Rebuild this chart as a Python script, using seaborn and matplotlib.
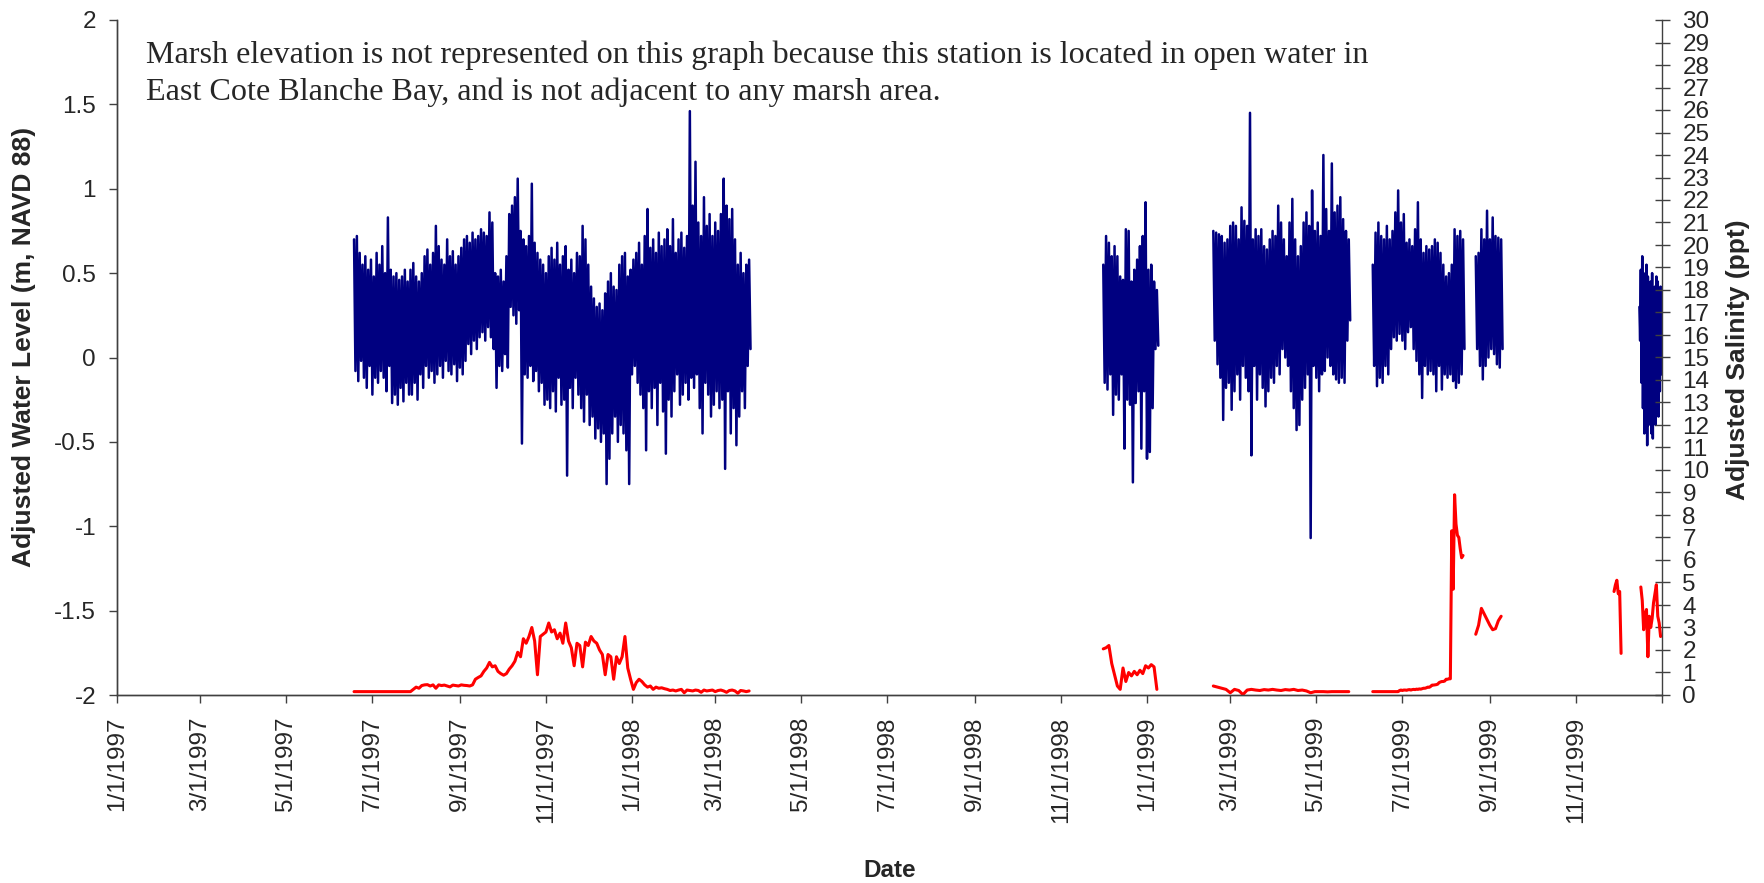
import matplotlib
matplotlib.use("Agg")
import matplotlib.pyplot as plt
import matplotlib.dates as mdates
import numpy as np
import pandas as pd
import seaborn as sns

# ---------------------------------------------------------------------------
# Adjusted water level (m, NAVD 88): successive high / low readings for each
# deployment period (start date, spacing in days between high/low pairs)
# ---------------------------------------------------------------------------
wl1_start, wl1_step = "1997-06-18", 2
wl1_high = [0.70, 0.72, 0.62, 0.55, 0.60, 0.52, 0.58, 0.48, 0.62, 0.55,
            0.66, 0.50, 0.83, 0.52, 0.48, 0.50, 0.46, 0.48, 0.52, 0.45,
            0.52, 0.56, 0.48, 0.45, 0.50, 0.60, 0.64, 0.55, 0.62, 0.78,
            0.66, 0.58, 0.55, 0.70, 0.60, 0.63, 0.55, 0.60, 0.65, 0.70,
            0.72, 0.68, 0.74, 0.70, 0.72, 0.76, 0.74, 0.72, 0.86, 0.80,
            0.50, 0.48, 0.52, 0.45, 0.60, 0.85, 0.90, 0.95, 1.06, 0.75,
            0.70, 0.66, 0.72, 1.03, 0.68, 0.62, 0.58, 0.55, 0.50, 0.60,
            0.65, 0.58, 0.68, 0.55, 0.60, 0.66, 0.52, 0.58, 0.50, 0.62,
            0.60, 0.78, 0.70, 0.55, 0.42, 0.35, 0.30, 0.32, 0.28, 0.38,
            0.45, 0.50, 0.42, 0.40, 0.55, 0.60, 0.62, 0.48, 0.52, 0.58,
            0.62, 0.68, 0.55, 0.72, 0.88, 0.65, 0.70, 0.62, 0.74, 0.66,
            0.70, 0.76, 0.66, 0.82, 0.62, 0.70, 0.74, 0.65, 0.72, 1.46,
            0.90, 1.16, 0.80, 0.72, 0.95, 0.78, 0.85, 0.72, 0.80, 0.75,
            0.85, 1.06, 0.90, 0.82, 0.88, 0.70, 0.55, 0.62, 0.50, 0.55, 0.58]
wl1_low = [-0.08, -0.14, -0.02, -0.12, -0.18, -0.05, -0.22, -0.12, -0.15, -0.08,
           -0.12, -0.20, -0.05, -0.27, -0.22, -0.28, -0.18, -0.26, -0.15, -0.22,
           -0.22, -0.15, -0.25, -0.10, -0.18, -0.05, -0.12, -0.08, -0.15, -0.10,
           -0.05, -0.12, -0.02, -0.08, -0.10, -0.04, -0.14, -0.06, -0.10, -0.02,
           0.08, 0.02, 0.10, 0.05, 0.12, 0.15, 0.10, 0.18, 0.12, 0.05,
           -0.18, -0.05, -0.08, 0.02, -0.06, 0.30, 0.25, 0.20, 0.28, -0.51,
           -0.10, -0.12, -0.05, -0.14, -0.08, -0.20, -0.15, -0.28, -0.25, -0.30,
           -0.20, -0.32, -0.12, -0.28, -0.25, -0.70, -0.18, -0.30, -0.12, -0.22,
           -0.30, -0.38, -0.22, -0.40, -0.35, -0.48, -0.42, -0.50, -0.45, -0.75,
           -0.60, -0.45, -0.35, -0.50, -0.40, -0.45, -0.55, -0.75, -0.10, -0.05,
           -0.15, -0.22, -0.30, -0.55, -0.20, -0.30, -0.18, -0.40, -0.15, -0.32,
           -0.57, -0.25, -0.35, -0.20, -0.10, -0.28, -0.22, -0.15, -0.25, -0.12,
           -0.18, -0.10, -0.30, -0.45, -0.15, -0.22, -0.35, -0.28, -0.20, -0.30,
           -0.25, -0.66, -0.20, -0.45, -0.30, -0.52, -0.35, -0.20, -0.30, -0.05, 0.05]

wl2_start, wl2_step = "1998-12-01", 2
wl2_high = [0.55, 0.72, 0.68, 0.60, 0.66, 0.60, 0.48, 0.46, 0.76, 0.75,
            0.45, 0.52, 0.58, 0.66, 0.72, 0.92, 0.52, 0.55, 0.45, 0.40]
wl2_low = [-0.15, -0.19, -0.10, -0.34, -0.22, -0.25, -0.10, -0.54, -0.25, -0.28,
           -0.74, -0.27, -0.20, -0.54, -0.20, -0.60, -0.56, -0.30, 0.05, 0.07]

wl3_start, wl3_step = "1999-02-17", 2
wl3_high = [0.75, 0.74, 0.73, 0.72, 0.68, 0.70, 0.78, 0.80, 0.78, 0.70,
            0.89, 0.81, 0.78, 1.45, 0.70, 0.76, 0.72, 0.76, 0.66, 0.64,
            0.70, 0.75, 0.72, 0.90, 0.80, 0.70, 0.60, 0.80, 0.94, 0.70,
            0.60, 0.66, 0.80, 0.86, 0.78, 0.99, 0.75, 0.80, 0.72, 1.20,
            0.88, 0.75, 1.15, 0.86, 0.90, 0.95, 0.82, 0.75, 0.70]
wl3_low = [0.10, -0.04, -0.12, -0.37, -0.18, -0.15, -0.31, -0.20, -0.10, -0.25,
           -0.05, -0.12, -0.20, -0.58, -0.05, -0.25, -0.10, -0.18, -0.29, -0.20,
           -0.12, -0.15, -0.05, -0.10, 0.05, 0.00, -0.05, -0.20, -0.30, -0.43,
           -0.40, -0.25, -0.18, -0.10, -1.07, -0.05, -0.12, -0.20, -0.10, -0.08,
           0.00, -0.05, -0.10, -0.13, -0.15, -0.12, -0.15, 0.10, 0.22]

wl4_start, wl4_step = "1999-06-10", 2
wl4_high = [0.55, 0.74, 0.80, 0.72, 0.70, 0.78, 0.70, 0.75, 0.86, 0.99,
            0.80, 0.85, 0.68, 0.70, 0.66, 0.76, 0.92, 0.70, 0.62, 0.66,
            0.64, 0.66, 0.70, 0.68, 0.62, 0.55, 0.48, 0.50, 0.55, 0.76,
            0.72, 0.75, 0.70]
wl4_low = [-0.05, -0.17, -0.12, -0.15, -0.05, -0.10, 0.05, 0.12, 0.10, 0.14,
           0.10, 0.05, 0.15, 0.18, 0.05, -0.02, -0.10, -0.24, -0.05, -0.10,
           -0.08, -0.10, -0.20, -0.05, -0.19, -0.10, -0.12, -0.10, -0.14, -0.18,
           -0.15, -0.10, 0.05]

wl5_start, wl5_step = "1999-08-22", 2
wl5_high = [0.60, 0.62, 0.76, 0.70, 0.87, 0.70, 0.83, 0.72, 0.71, 0.70]
wl5_low = [0.05, -0.05, -0.13, -0.05, 0.00, 0.05, 0.02, -0.04, -0.06, 0.05]

wl6_start, wl6_step = "1999-12-16", 1
wl6_high = [0.30, 0.52, 0.60, 0.50, 0.45, 0.55, 0.48, 0.40,
            0.45, 0.50, 0.38, 0.42, 0.48, 0.45, 0.40, 0.42]
wl6_low = [0.10, -0.15, -0.30, -0.45, -0.38, -0.52, -0.40, -0.35,
           -0.45, -0.48, -0.30, -0.40, -0.25, -0.35, -0.20, -0.10]

# ---------------------------------------------------------------------------
# Adjusted salinity (ppt): readings per deployment (start date, spacing days)
# ---------------------------------------------------------------------------
sal1_start, sal1_step = "1997-06-18", 2
sal1 = [0.15, 0.15, 0.15, 0.15, 0.15, 0.15, 0.15, 0.15, 0.15, 0.15,
        0.15, 0.15, 0.15, 0.15, 0.15, 0.15, 0.15, 0.15, 0.15, 0.15, 0.15,
        0.25, 0.35, 0.30, 0.42, 0.45, 0.46, 0.40, 0.45, 0.30, 0.45,
        0.42, 0.44, 0.40, 0.36, 0.44, 0.42, 0.40, 0.45, 0.43, 0.42, 0.40,
        0.45, 0.70, 0.78, 0.85, 1.05, 1.20, 1.45, 1.25, 1.30, 1.05,
        0.95, 0.88, 0.95, 1.15, 1.30, 1.50, 1.90, 1.70, 2.50, 2.30,
        2.60, 3.00, 2.40, 0.90, 2.60, 2.70, 2.80, 3.20, 2.80, 2.90,
        2.50, 2.75, 2.30, 3.20, 2.40, 2.10, 1.30, 2.30, 2.20, 1.25,
        2.35, 2.20, 2.60, 2.40, 2.30, 2.00, 1.80, 0.90, 1.80, 1.70,
        0.70, 1.70, 1.40, 1.70, 2.60, 1.20, 0.70, 0.25, 0.55, 0.70,
        0.60, 0.45, 0.35, 0.40, 0.25, 0.35, 0.30, 0.32, 0.28,
        0.25, 0.20, 0.22, 0.18, 0.22, 0.25, 0.10, 0.22, 0.20, 0.18,
        0.22, 0.20, 0.12, 0.22, 0.18, 0.20, 0.22, 0.15, 0.20, 0.22,
        0.18, 0.12, 0.20, 0.22, 0.18, 0.08, 0.20, 0.18, 0.15, 0.18]

sal2_start, sal2_step = "1998-12-01", 2
sal2 = [2.05, 2.10, 2.20, 1.40, 0.90, 0.40, 0.25, 1.20, 0.60, 1.00,
        0.85, 1.05, 0.90, 1.10, 0.95, 1.30, 1.20, 1.35, 1.25, 0.25]

sal3_start, sal3_step = "1999-02-17", 3
sal3 = [0.40, 0.35, 0.30, 0.25, 0.10, 0.25, 0.20, 0.02, 0.22, 0.25,
        0.22, 0.20, 0.24, 0.22, 0.25, 0.22, 0.20, 0.24, 0.22, 0.25,
        0.20, 0.22, 0.18, 0.10, 0.15, 0.15, 0.15, 0.14, 0.15, 0.15,
        0.15, 0.15, 0.15]

sal4_start, sal4_step = "1999-06-10", 1
sal4 = [0.15, 0.15, 0.15, 0.15, 0.15, 0.15, 0.15, 0.15, 0.15, 0.15,
        0.15, 0.15, 0.15, 0.15, 0.15, 0.15, 0.15, 0.15, 0.15,
        0.20, 0.22, 0.20, 0.22, 0.22, 0.21, 0.23, 0.24, 0.22, 0.24,
        0.25, 0.24, 0.26, 0.25, 0.27, 0.26, 0.28,
        0.30, 0.30, 0.32, 0.35, 0.34, 0.38, 0.44, 0.44, 0.45, 0.46,
        0.48, 0.55, 0.58, 0.60, 0.60, 0.62, 0.70, 0.70, 0.72, 0.72,
        7.30, 4.70, 8.90, 7.60, 7.10, 7.00, 6.50, 6.10, 6.20]

sal5_start, sal5_step = "1999-08-22", 2
sal5 = [2.70, 3.10, 3.85, 3.60, 3.35, 3.10, 2.90, 2.95, 3.30, 3.50]

sal6_start, sal6_step = "1999-11-28", 1
sal6 = [4.60, 4.90, 5.10, 4.50, 4.60, 1.85]

sal7_start, sal7_step = "1999-12-17", 1
sal7 = [4.80, 4.20, 2.90, 3.60, 3.80, 1.70, 3.50, 3.00, 3.40, 4.10,
        4.50, 4.90, 3.50, 3.20, 2.60]

# Axis text
left_ticks = [-2, -1.5, -1, -0.5, 0, 0.5, 1, 1.5, 2]
left_tick_labels = ["-2", "-1.5", "-1", "-0.5", "0", "0.5", "1", "1.5", "2"]
right_ticks = list(range(0, 31))
date_ticks = pd.date_range("1997-01-01", "2000-01-01", freq="2MS")
date_tick_labels = [f"{d.month}/{d.day}/{d.year}" for d in date_ticks[:-1]] + [""]
note_lines = [
    "Marsh elevation is not represented on this graph because this station is located in open water in",
    "East Cote Blanche Bay, and is not adjacent to any marsh area.",
]


def level_frame(parts):
    rows = []
    for k, (start, step, highs, lows) in enumerate(parts):
        t0 = pd.Timestamp(start)
        for i, (h, l) in enumerate(zip(highs, lows)):
            rows.append((t0 + pd.Timedelta(days=step * i), h, k))
            rows.append((t0 + pd.Timedelta(days=step * i + step / 2), l, k))
    return pd.DataFrame(rows, columns=["date", "level", "segment"])


def salinity_frame(parts):
    rows = []
    for k, (start, step, vals) in enumerate(parts):
        t0 = pd.Timestamp(start)
        for i, v in enumerate(vals):
            rows.append((t0 + pd.Timedelta(days=step * i), v, k))
    return pd.DataFrame(rows, columns=["date", "salinity", "segment"])


wl_df = level_frame([
    (wl1_start, wl1_step, wl1_high, wl1_low),
    (wl2_start, wl2_step, wl2_high, wl2_low),
    (wl3_start, wl3_step, wl3_high, wl3_low),
    (wl4_start, wl4_step, wl4_high, wl4_low),
    (wl5_start, wl5_step, wl5_high, wl5_low),
    (wl6_start, wl6_step, wl6_high, wl6_low),
])
sal_df = salinity_frame([
    (sal1_start, sal1_step, sal1),
    (sal2_start, sal2_step, sal2),
    (sal3_start, sal3_step, sal3),
    (sal4_start, sal4_step, sal4),
    (sal5_start, sal5_step, sal5),
    (sal6_start, sal6_step, sal6),
    (sal7_start, sal7_step, sal7),
])

sns.set_style("white")
plt.rcParams["font.family"] = ["Liberation Sans", "DejaVu Sans"]
plt.rcParams["axes.unicode_minus"] = False

W, H = 1765, 883
fig = plt.figure(figsize=(W / 100, H / 100), dpi=100)
x0, x1, y0, y1 = 117, 1662, 20, 695
ax = fig.add_axes([x0 / W, 1 - y1 / H, (x1 - x0) / W, (y1 - y0) / H])
ax2 = ax.twinx()

sns.lineplot(data=wl_df, x="date", y="level", units="segment", estimator=None,
             sort=False, color="#000080", linewidth=1.8, ax=ax, legend=False)
sns.lineplot(data=sal_df, x="date", y="salinity", units="segment", estimator=None,
             sort=False, color="#FF0000", linewidth=2.2, ax=ax2, legend=False)

spine_col = "#404040"
for a in (ax, ax2):
    a.set_facecolor("none")
    a.spines["top"].set_visible(False)
    for s in ("left", "right", "bottom"):
        a.spines[s].set_color(spine_col)
        a.spines[s].set_linewidth(1.0)
ax.spines["right"].set_visible(False)

ax.set_xlim(mdates.date2num(pd.Timestamp("1997-01-01")),
            mdates.date2num(pd.Timestamp("2000-01-01")))
ax.set_ylim(-2, 2)
ax2.set_ylim(0, 30)

ax.set_yticks(left_ticks)
ax.set_yticklabels(left_tick_labels)
ax2.set_yticks(right_ticks)
ax2.set_yticklabels([str(t) for t in right_ticks])
ax.set_xticks(mdates.date2num(date_ticks))
ax.set_xticklabels(date_tick_labels, rotation=90)

fs = 17.5
ax.tick_params(axis="y", direction="out", length=5.8, width=1, color=spine_col,
               labelsize=fs, pad=9.3, left=True)
ax.tick_params(axis="x", direction="out", length=5.8, width=1, color=spine_col,
               labelsize=fs, pad=10, bottom=True)
ax2.tick_params(axis="y", direction="inout", length=10.8, width=1, color=spine_col,
                labelsize=fs, pad=9.3, right=True)

ax.set_xlabel("Date", fontsize=fs, fontweight="bold")
ax.xaxis.set_label_coords(890 / W, 1 - 876.7 / H, transform=fig.transFigure)
ax.xaxis.label.set_va("baseline")

ax.set_ylabel("Adjusted Water Level (m, NAVD 88)", fontsize=19, fontweight="bold")
ax.yaxis.set_label_coords(24 / W, 1 - 347 / H, transform=fig.transFigure)
ax.yaxis.label.set_va("center")
ax2.set_ylabel("Adjusted Salinity (ppt)", fontsize=19, fontweight="bold")
ax2.yaxis.set_label_coords(1738 / W, 1 - 359.5 / H, transform=fig.transFigure)
ax2.yaxis.label.set_va("center")

for line, base in zip(note_lines, (63, 100)):
    fig.text(146 / W, 1 - base / H, line, fontsize=23.1, va="baseline",
             family=["Liberation Serif", "DejaVu Serif"])

fig.savefig("out.png", dpi=100)
